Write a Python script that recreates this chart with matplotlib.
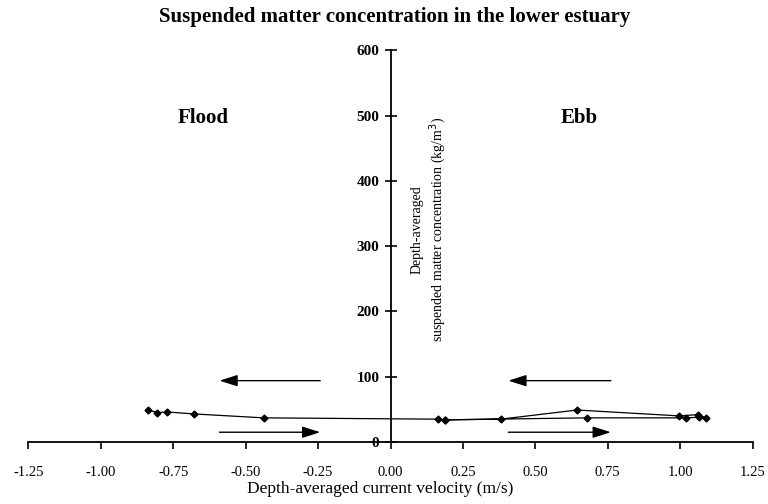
import numpy as np
import matplotlib.pyplot as plt

# velocity (m/s) and concentration (kg/m3) along the tidal cycle
velocity = [-0.836, -0.805, -0.771, -0.678, -0.438, 0.164, 0.188, 0.38,
            0.644, 0.997, 1.062, 1.089, 1.065, 1.02, 0.678, 0.188]
concentration = [49, 45, 46, 43, 37, 35, 34, 35,
                 49, 40, 42, 37, 38, 37, 37, 34]

x_ticks = [-1.25, -1.00, -0.75, -0.50, -0.25, 0.00, 0.25, 0.50, 0.75, 1.00, 1.25]
y_ticks = [0, 100, 200, 300, 400, 500, 600]

plt.rcParams['font.family'] = ['Liberation Serif', 'DejaVu Serif']

fig = plt.figure(figsize=(7.68, 5.04), dpi=100)
ax = fig.add_axes([0.037, 0.123, 0.943, 0.777])

ax.plot(velocity, concentration, color='black', lw=0.9, marker='D', ms=3.5)

ax.set_xlim(-1.25, 1.25)
ax.set_ylim(0, 600)
ax.spines['left'].set_position(('data', 0))
ax.spines['bottom'].set_position(('data', 0))
ax.spines['top'].set_visible(False)
ax.spines['right'].set_visible(False)
ax.spines['left'].set_linewidth(1.3)
ax.spines['bottom'].set_linewidth(1.3)

ax.set_xticks(x_ticks)
ax.set_xticklabels([f"{t:.2f}" for t in x_ticks], fontsize=10.5)
ax.set_yticks(y_ticks)
ax.set_yticklabels([str(t) for t in y_ticks], fontsize=11, fontweight='bold')
ax.tick_params(axis='x', direction='out', length=5, width=1.2, pad=12)
ax.tick_params(axis='y', direction='inout', length=8, width=1.2, pad=4)

# flow direction arrows
arrow = dict(arrowstyle='-|>,head_length=1.1,head_width=0.35', color='black', lw=1.0)
ax.annotate('', xy=(-0.60, 94), xytext=(-0.233, 94), arrowprops=arrow)
ax.annotate('', xy=(0.397, 94), xytext=(0.77, 94), arrowprops=arrow)
ax.annotate('', xy=(-0.233, 15), xytext=(-0.60, 15), arrowprops=arrow)
ax.annotate('', xy=(0.77, 15), xytext=(0.397, 15), arrowprops=arrow)

ax.text(-0.647, 497, 'Flood', fontsize=15, fontweight='bold', ha='center', va='center')
ax.text(0.65, 497, 'Ebb', fontsize=15, fontweight='bold', ha='center', va='center')
ax.text(0.134, 325, 'Depth-averaged\nsuspended matter concentration (kg/m$^3$)',
        rotation=90, fontsize=10, ha='center', va='center', multialignment='center')

fig.text(0.514, 0.966, 'Suspended matter concentration in the lower estuary',
         fontsize=15, fontweight='bold', ha='center', va='center')
fig.text(0.495, 0.03, 'Depth-averaged current velocity (m/s)', fontsize=12.5,
         ha='center', va='center')

fig.savefig('out.png', dpi=100)
